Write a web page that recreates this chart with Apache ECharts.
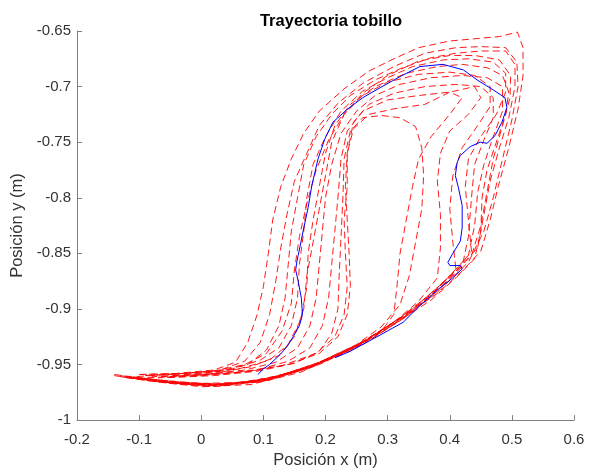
<!DOCTYPE html>
<html>
<head>
<meta charset="utf-8">
<script src="https://cdn.jsdelivr.net/npm/echarts@6/dist/echarts.min.js"></script>
<style>
  html, body { margin: 0; padding: 0; background: #fff; }
  #main { width: 592px; height: 474px; }
</style>
</head>
<body>
<div id="main"></div>
<script>
// trayectorias de cada ciclo (x, y) en metros
var trial1 = [[-0.14,-0.960],[-0.08,-0.965],[0.0,-0.970],[0.08,-0.968],[0.16,-0.957],[0.24,-0.936],[0.32,-0.909],[0.38,-0.886],[0.42,-0.866],[0.45,-0.848],
  [0.465,-0.82],[0.478,-0.79],[0.495,-0.755],[0.51,-0.72],[0.518,-0.69],[0.518,-0.665],[0.509,-0.651],
  [0.48,-0.655],[0.44,-0.657],[0.40,-0.659],[0.35,-0.665],[0.31,-0.675],[0.27,-0.686],[0.23,-0.702],[0.19,-0.722],[0.165,-0.742],
  [0.145,-0.765],[0.128,-0.79],[0.115,-0.82],[0.108,-0.85],[0.10,-0.88],[0.09,-0.905],[0.075,-0.93],[0.055,-0.948],[0.02,-0.955],[-0.04,-0.958],[-0.10,-0.959]];
var trial2 = [[-0.13,-0.961],[-0.06,-0.966],[0.01,-0.969],[0.09,-0.966],[0.17,-0.954],[0.25,-0.934],[0.32,-0.910],[0.38,-0.885],[0.43,-0.858],
  [0.455,-0.83],[0.47,-0.80],[0.485,-0.765],[0.50,-0.73],[0.51,-0.70],[0.508,-0.678],[0.49,-0.665],
  [0.45,-0.664],[0.41,-0.665],[0.36,-0.670],[0.31,-0.682],[0.26,-0.697],[0.22,-0.715],[0.19,-0.735],
  [0.17,-0.76],[0.15,-0.785],[0.138,-0.815],[0.128,-0.845],[0.12,-0.875],[0.11,-0.905],[0.095,-0.93],[0.07,-0.947],[0.03,-0.955],[-0.03,-0.958],[-0.09,-0.960]];
var trial3 = [[-0.12,-0.962],[-0.05,-0.967],[0.02,-0.970],[0.10,-0.965],[0.18,-0.952],[0.26,-0.930],[0.33,-0.905],[0.39,-0.878],[0.435,-0.852],
  [0.45,-0.825],[0.46,-0.795],[0.47,-0.765],[0.485,-0.735],[0.497,-0.71],[0.498,-0.69],[0.48,-0.676],
  [0.44,-0.672],[0.40,-0.672],[0.35,-0.677],[0.30,-0.69],[0.26,-0.706],[0.23,-0.725],[0.205,-0.748],
  [0.185,-0.775],[0.17,-0.805],[0.158,-0.835],[0.15,-0.865],[0.145,-0.895],[0.13,-0.92],[0.105,-0.94],[0.07,-0.950],[0.02,-0.956],[-0.05,-0.959],[-0.11,-0.961]];
var trial4 = [[-0.13,-0.960],[-0.06,-0.966],[0.00,-0.968],[0.08,-0.966],[0.16,-0.955],[0.24,-0.938],[0.31,-0.914],[0.37,-0.892],[0.41,-0.872],[0.44,-0.855],
  [0.45,-0.83],[0.452,-0.80],[0.46,-0.775],[0.475,-0.75],[0.49,-0.725],[0.495,-0.705],[0.485,-0.69],
  [0.46,-0.683],[0.42,-0.680],[0.38,-0.682],[0.33,-0.688],[0.28,-0.700],[0.24,-0.716],[0.215,-0.735],
  [0.20,-0.76],[0.19,-0.79],[0.18,-0.82],[0.172,-0.85],[0.17,-0.88],[0.16,-0.91],[0.14,-0.932],[0.11,-0.946],[0.06,-0.954],[0.0,-0.958],[-0.07,-0.961]];
var trial5 = [[-0.11,-0.962],[-0.04,-0.967],[0.03,-0.969],[0.11,-0.963],[0.19,-0.948],[0.27,-0.927],[0.34,-0.900],[0.39,-0.876],[0.43,-0.852],
  [0.44,-0.825],[0.445,-0.795],[0.455,-0.77],[0.47,-0.745],[0.485,-0.722],[0.485,-0.70],
  [0.46,-0.692],[0.42,-0.690],[0.37,-0.692],[0.32,-0.698],[0.28,-0.708],[0.25,-0.722],[0.225,-0.742],
  [0.21,-0.77],[0.20,-0.80],[0.195,-0.83],[0.19,-0.86],[0.185,-0.89],[0.175,-0.915],[0.155,-0.935],[0.12,-0.948],[0.07,-0.955],[0.0,-0.959],[-0.08,-0.961]];
var trial6 = [[-0.12,-0.961],[-0.05,-0.966],[0.02,-0.968],[0.10,-0.964],[0.18,-0.951],[0.26,-0.932],[0.33,-0.907],[0.38,-0.884],[0.42,-0.862],
  [0.43,-0.835],[0.435,-0.80],[0.44,-0.77],[0.455,-0.748],[0.47,-0.728],[0.47,-0.71],
  [0.45,-0.70],[0.41,-0.698],[0.36,-0.700],[0.31,-0.706],[0.27,-0.716],[0.245,-0.732],
  [0.235,-0.76],[0.232,-0.79],[0.235,-0.82],[0.238,-0.85],[0.24,-0.88],[0.235,-0.905],[0.22,-0.925],[0.19,-0.940],[0.14,-0.950],[0.08,-0.956],[0.0,-0.960],[-0.07,-0.962]];
var trial7 = [[-0.10,-0.962],[-0.03,-0.967],[0.04,-0.968],[0.12,-0.962],[0.20,-0.947],[0.28,-0.925],[0.34,-0.902],[0.38,-0.882],[0.41,-0.865],
  [0.405,-0.84],[0.40,-0.81],[0.405,-0.78],[0.42,-0.755],[0.445,-0.735],[0.465,-0.718],[0.465,-0.70],
  [0.44,-0.69],[0.40,-0.687],[0.35,-0.689],[0.30,-0.696],[0.26,-0.708],[0.23,-0.725],
  [0.21,-0.75],[0.20,-0.78],[0.19,-0.81],[0.18,-0.84],[0.17,-0.87],[0.165,-0.90],[0.15,-0.925],[0.125,-0.942],[0.08,-0.952],[0.02,-0.958],[-0.05,-0.961]];
var trial8 = [[-0.11,-0.961],[-0.04,-0.966],[0.03,-0.968],[0.11,-0.963],[0.19,-0.949],[0.26,-0.930],[0.31,-0.912],[0.35,-0.893],[0.38,-0.872],
  [0.385,-0.845],[0.385,-0.815],[0.38,-0.785],[0.385,-0.76],[0.40,-0.74],[0.43,-0.725],[0.45,-0.71],
  [0.44,-0.70],[0.40,-0.705],[0.35,-0.708],[0.30,-0.712],[0.26,-0.722],[0.235,-0.74],
  [0.225,-0.765],[0.22,-0.80],[0.215,-0.83],[0.21,-0.86],[0.205,-0.89],[0.195,-0.915],[0.175,-0.935],[0.14,-0.947],[0.09,-0.955],[0.02,-0.959],[-0.06,-0.961]];
var trial9 = [[-0.10,-0.962],[-0.03,-0.966],[0.04,-0.968],[0.12,-0.961],[0.19,-0.948],[0.25,-0.932],[0.29,-0.916],[0.32,-0.896],
  [0.335,-0.87],[0.345,-0.84],[0.355,-0.81],[0.358,-0.78],[0.355,-0.755],[0.345,-0.736],
  [0.32,-0.728],[0.29,-0.726],[0.26,-0.728],[0.24,-0.74],
  [0.23,-0.765],[0.228,-0.80],[0.225,-0.835],[0.222,-0.87],[0.22,-0.90],[0.21,-0.922],[0.19,-0.938],[0.15,-0.949],[0.09,-0.956],[0.02,-0.960],[-0.06,-0.962]];
var trial10 = [[-0.14,-0.959],[-0.07,-0.964],[0.0,-0.967],[0.07,-0.966],[0.15,-0.957],[0.23,-0.939],[0.30,-0.916],[0.36,-0.892],[0.41,-0.866],[0.445,-0.845],
  [0.455,-0.815],[0.465,-0.785],[0.48,-0.755],[0.495,-0.728],[0.505,-0.70],[0.505,-0.68],[0.49,-0.668],
  [0.45,-0.668],[0.41,-0.670],[0.37,-0.674],[0.32,-0.684],[0.28,-0.694],[0.24,-0.708],[0.21,-0.725],[0.185,-0.745],
  [0.165,-0.77],[0.155,-0.80],[0.145,-0.83],[0.14,-0.86],[0.135,-0.89],[0.125,-0.915],[0.105,-0.937],[0.075,-0.950],[0.03,-0.956],[-0.03,-0.958],[-0.1,-0.959]];
var trial11 = [[-0.12,-0.961],[-0.05,-0.966],[0.01,-0.969],[0.09,-0.965],[0.17,-0.953],[0.25,-0.933],[0.32,-0.908],[0.37,-0.886],[0.415,-0.862],[0.435,-0.848],
  [0.43,-0.82],[0.425,-0.79],[0.43,-0.765],[0.45,-0.745],[0.475,-0.725],[0.49,-0.705],[0.49,-0.688],
  [0.47,-0.678],[0.43,-0.675],[0.39,-0.676],[0.34,-0.682],[0.30,-0.692],[0.26,-0.704],[0.225,-0.722],[0.20,-0.745],
  [0.18,-0.77],[0.17,-0.80],[0.165,-0.83],[0.158,-0.86],[0.155,-0.89],[0.145,-0.915],[0.125,-0.935],[0.095,-0.946],[0.05,-0.954],[-0.01,-0.958],[-0.09,-0.960]];
var trial12 = [[-0.11,-0.962],[-0.04,-0.967],[0.03,-0.969],[0.11,-0.964],[0.19,-0.95],[0.25,-0.934],[0.29,-0.92],[0.31,-0.905],
  [0.315,-0.88],[0.32,-0.85],[0.33,-0.82],[0.34,-0.79],[0.35,-0.765],[0.37,-0.745],[0.40,-0.725],[0.42,-0.71],
  [0.40,-0.705],[0.36,-0.716],[0.31,-0.72],[0.27,-0.725],[0.245,-0.738],
  [0.235,-0.76],[0.235,-0.79],[0.23,-0.82],[0.232,-0.85],[0.235,-0.88],[0.23,-0.905],[0.215,-0.925],[0.185,-0.940],[0.13,-0.951],[0.06,-0.957],[-0.02,-0.960],[-0.09,-0.962]];

// trayectoria media
var meanPath = [[0.091,-0.959],[0.100,-0.954],[0.110,-0.950],[0.127,-0.941],[0.138,-0.934],[0.148,-0.925],[0.158,-0.915],[0.163,-0.905],[0.161,-0.890],
  [0.156,-0.875],[0.152,-0.865],[0.154,-0.857],[0.156,-0.852],[0.164,-0.830],[0.172,-0.809],[0.178,-0.789],[0.188,-0.765],[0.199,-0.747],
  [0.212,-0.732],[0.236,-0.720],[0.260,-0.710],[0.288,-0.701],[0.320,-0.691],[0.352,-0.682],[0.389,-0.680],[0.422,-0.685],[0.444,-0.694],
  [0.470,-0.703],[0.489,-0.710],[0.492,-0.719],[0.484,-0.732],[0.473,-0.744],[0.460,-0.751],[0.449,-0.750],[0.433,-0.754],[0.417,-0.762],
  [0.412,-0.768],[0.409,-0.780],[0.414,-0.791],[0.420,-0.807],[0.420,-0.827],[0.417,-0.839],[0.404,-0.851],[0.397,-0.858],[0.400,-0.861],
  [0.417,-0.861],[0.420,-0.864],[0.405,-0.872],[0.380,-0.883],[0.352,-0.897],[0.325,-0.912],[0.283,-0.925],[0.240,-0.938],[0.215,-0.944]];

var trials = [trial1, trial2, trial3, trial4, trial5, trial6, trial7, trial8, trial9, trial10, trial11, trial12];

var series = [];
trials.forEach(function (t, i) {
  series.push({
    name: 'ciclo ' + (i + 1),
    type: 'line',
    data: t,
    showSymbol: false,
    lineStyle: { color: '#ff0000', width: 0.9, type: [7, 4] },
    z: 2
  });
});
series.push({
  name: 'media',
  type: 'line',
  data: meanPath,
  showSymbol: false,
  lineStyle: { color: '#0000ff', width: 1 },
  z: 3
});

var axisCol = '#808080';
var labelCol = '#333333';
var font = 'Liberation Sans';

var option = {
  animation: false,
  backgroundColor: '#ffffff',
  title: {
    text: 'Trayectoria tobillo',
    left: 326,
    textAlign: 'center',
    top: 8,
    textStyle: { fontFamily: font, fontSize: 16.5, fontWeight: 'bold', color: '#000' }
  },
  grid: { left: 77, right: 18, top: 31, bottom: 50 },
  xAxis: {
    type: 'value',
    min: -0.2, max: 0.6, interval: 0.1,
    name: 'Posición x (m)',
    nameLocation: 'middle',
    nameGap: 28,
    nameTextStyle: { fontFamily: font, fontSize: 16.5, color: labelCol },
    axisLine: { show: true, onZero: false, lineStyle: { color: axisCol } },
    axisTick: { show: true, inside: true, length: 5, lineStyle: { color: axisCol } },
    axisLabel: { fontFamily: font, fontSize: 15, color: labelCol, margin: 12 },
    splitLine: { show: false }
  },
  yAxis: {
    type: 'value',
    min: -1, max: -0.65, interval: 0.05,
    name: 'Posición y (m)',
    nameLocation: 'middle',
    nameGap: 45,
    nameRotate: 90,
    nameTextStyle: { fontFamily: font, fontSize: 16.5, color: labelCol },
    axisLine: { show: true, onZero: false, lineStyle: { color: axisCol } },
    axisTick: { show: true, inside: true, length: 5, lineStyle: { color: axisCol } },
    axisLabel: { fontFamily: font, fontSize: 15, color: labelCol, margin: 6 },
    splitLine: { show: false }
  },
  series: series
};

var chart = echarts.init(document.getElementById('main'));
chart.setOption(option);
</script>
</body>
</html>
